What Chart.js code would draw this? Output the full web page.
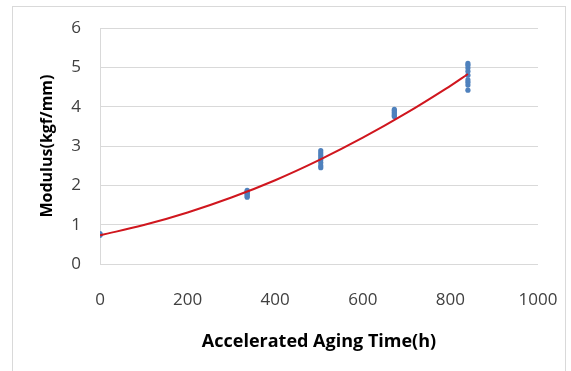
<!DOCTYPE html>
<html>
<head>
<meta charset="utf-8">
<script src="https://cdn.jsdelivr.net/npm/chart.js"></script>
<style>
html,body{margin:0;padding:0;background:#fff;overflow:hidden;}
#wrap{position:absolute;left:0;top:0;width:571px;height:371px;}
#frame{position:absolute;left:12px;top:6px;width:554px;height:380px;border:1px solid #d9d9d9;box-sizing:border-box;}
canvas{position:absolute;left:0;top:0;}
</style>
</head>
<body>
<div id="wrap">
<div id="frame"></div>
<canvas id="c" width="571" height="371"></canvas>
</div>
<script>
// Measured samples (x = aging time in h, y = modulus)
const time0 = [0, 0, 0];
const mod0 = [0.73, 0.75, 0.77];
const time336 = [336, 336, 336, 336, 336, 336, 336];
const mod336 = [1.70, 1.73, 1.76, 1.79, 1.82, 1.85, 1.87];
const time504 = [504, 504, 504, 504, 504, 504, 504, 504];
const mod504 = [2.45, 2.50, 2.58, 2.65, 2.70, 2.76, 2.82, 2.88];
const time672 = [672, 672, 672, 672, 672, 672];
const mod672 = [3.75, 3.78, 3.82, 3.86, 3.90, 3.93];
const time840 = [840, 840, 840, 840, 840, 840, 840, 840, 840];
const mod840 = [4.42, 4.55, 4.62, 4.68, 4.80, 4.90, 4.98, 5.05, 5.10];

// Trend line
const trendX = [0, 100, 200, 300, 400, 500, 600, 700, 800, 840];
const trendY = [0.73, 0.99, 1.31, 1.69, 2.13, 2.64, 3.21, 3.84, 4.53, 4.83];

const xTicks = [0, 200, 400, 600, 800, 1000];
const yTicks = [0, 1, 2, 3, 4, 5, 6];
const xTitle = 'Accelerated Aging Time(h)';
const yTitle = 'Modulus(kgf/mm)';

function pts(xs, ys) { return xs.map((x, i) => ({x: x, y: ys[i]})); }
const scatterPts = [].concat(
  pts(time0, mod0), pts(time336, mod336), pts(time504, mod504),
  pts(time672, mod672), pts(time840, mod840));

const yTitlePlugin = {
  id: 'yTitlePlugin',
  afterDraw(chart) {
    const c = chart.ctx, a = chart.chartArea;
    c.save();
    c.translate(47, (a.top + a.bottom) / 2);
    c.rotate(-Math.PI / 2);
    c.textAlign = 'center';
    c.textBaseline = 'middle';
    c.fillStyle = '#000';
    c.font = 'bold 16px "Open Sans"';
    c.fillText(yTitle, 0, 0);
    c.restore();
  }
};

const ctx = document.getElementById('c').getContext('2d');
new Chart(ctx, {
  type: 'scatter',
  plugins: [yTitlePlugin],
  data: {
    datasets: [
      {
        type: 'line',
        data: pts(trendX, trendY),
        borderColor: '#d0161e',
        borderWidth: 2,
        pointRadius: 0,
        fill: false,
        tension: 0.4,
        order: 0
      },
      {
        data: scatterPts,
        backgroundColor: '#4f81bd',
        borderColor: '#4f81bd',
        pointRadius: 2.6,
        borderWidth: 0,
        order: 1
      }
    ]
  },
  options: {
    responsive: false,
    animation: false,
    events: [],
    layout: {padding: {left: 0, right: 33, top: 28, bottom: 0}},
    plugins: {legend: {display: false}, tooltip: {enabled: false}},
    scales: {
      x: {
        type: 'linear',
        min: 0, max: 1000,
        afterBuildTicks: s => { s.ticks = xTicks.map(v => ({value: v})); },
        afterFit: s => { s.height = 107; s.paddingLeft = 0; s.paddingRight = 0; },
        grid: {display: false, drawTicks: false},
        border: {display: false},
        ticks: {
          padding: 26,
          color: '#404040',
          font: {family: 'Open Sans', size: 17},
          maxRotation: 0,
          callback: v => String(v)
        },
        title: {
          display: true,
          text: xTitle,
          color: '#000',
          font: {family: 'Open Sans', size: 18, weight: 'bold'},
          padding: {top: 0, bottom: 18}
        }
      },
      y: {
        type: 'linear',
        min: 0, max: 6,
        afterBuildTicks: s => { s.ticks = yTicks.map(v => ({value: v})); },
        afterFit: s => { s.width = 100; s.paddingTop = 0; s.paddingBottom = 0; },
        grid: {color: '#d9d9d9', lineWidth: 1, drawTicks: false},
        border: {display: true, color: '#d9d9d9', width: 1},
        ticks: {
          padding: 19,
          color: '#404040',
          font: {family: 'Open Sans', size: 17}
        },
        title: {display: false}
      }
    }
  }
});
</script>
</body>
</html>
